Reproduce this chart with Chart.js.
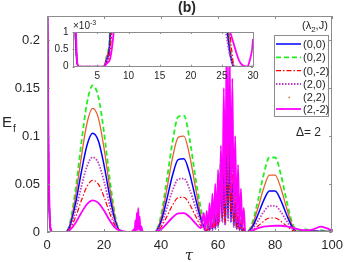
<!DOCTYPE html>
<html>
<head>
<meta charset="utf-8">
<script src="https://cdn.jsdelivr.net/npm/chart.js@4.4.1/dist/chart.umd.min.js"></script>
<style>
  body { margin: 0; background: #fff; }
  #wrap { position: relative; width: 349px; height: 262px; }
  canvas { position: absolute; left: 0; top: 0; }
</style>
</head>
<body>
<div id="wrap">
  <canvas id="mainChart" width="349" height="262"></canvas>
  <canvas id="insetChart" width="349" height="262"></canvas>
</div>
<script>
// time axis (tau), shared by all series
var tau = [
  0, 0.5, 1, 1.5, 2, 4, 6, 6.5, 7, 8,
  10, 12, 14, 16, 18, 20, 22, 24, 25, 26,
  26.5, 27, 27.5, 28, 29, 29.5, 30, 30.5, 30.75, 31,
  31.25, 31.5, 31.75, 32, 32.25, 32.5, 32.75, 33, 33.5, 34,
  36, 37.5, 38, 40, 42, 44, 46, 48, 50, 52,
  54, 55, 55.5, 56, 56.5, 57, 57.5, 58, 58.5, 59,
  59.5, 60, 60.5, 61, 61.5, 62, 62.5, 63, 63.5, 64,
  64.5, 65, 65.5, 66, 66.5, 67, 67.5, 68, 68.5, 69,
  69.5, 70, 72, 74, 76, 78, 80, 82, 84, 86,
  88, 90, 92, 94, 96, 98, 100
];

// (lambda2, J) = (0,0)
var ef00 = [
  0.3, 0.08, 0.01, 0.0008, 0, 0, 0, 0.0002, 0.0007, 0.0059,
  0.0295, 0.0617, 0.0901, 0.1028, 0.095, 0.0697, 0.0371, 0.0104, 0.0031, 0.0008,
  0.0002, 0, 0, 0, 0, 0, 0, 0, 0, 0,
  0, 0, 0, 0, 0, 0, 0, 0, 0, 0,
  0, 0, 0.0002, 0.0109, 0.0338, 0.0589, 0.0754, 0.0763, 0.0611, 0.0363,
  0.0128, 0.005, 0.002, 0.001, 0.004, 0.002, 0.008, 0.003, 0.012, 0.004,
  0.018, 0.006, 0.03, 0.045, 0.012, 0.06, 0.008, 0.08, 0.015, 0.1,
  0.01, 0.05, 0.006, 0.03, 0.003, 0.015, 0.002, 0.008, 0.001, 0.003,
  0.0005, 0, 0.0051, 0.0182, 0.033, 0.0427, 0.0427, 0.033, 0.0182, 0.0051,
  0, 0.0008, 0.001, 0.0008, 0.0005, 0.0005, 0.0005
];
// (0,2)
var ef02 = [
  0.3, 0.08, 0.01, 0.0008, 0, 0, 0, 0.0003, 0.001, 0.0087,
  0.0438, 0.0916, 0.134, 0.1527, 0.141, 0.1036, 0.0551, 0.0155, 0.0046, 0.0012,
  0.0003, 0, 0, 0, 0, 0, 0, 0, 0, 0,
  0, 0, 0, 0, 0, 0, 0, 0, 0, 0,
  0, 0, 0.0003, 0.0174, 0.0537, 0.0936, 0.12, 0.1213, 0.0971, 0.0578,
  0.024, 0.012, 0.008, 0.005, 0.01, 0.004, 0.015, 0.006, 0.02, 0.008,
  0.03, 0.01, 0.045, 0.078, 0.02, 0.06, 0.01, 0.09, 0.03, 0.12,
  0.02, 0.07, 0.01, 0.05, 0.005, 0.03, 0.004, 0.015, 0.002, 0.006,
  0.001, 0, 0.0094, 0.033, 0.06, 0.0776, 0.0776, 0.06, 0.033, 0.0094,
  0.001, 0.003, 0.002, 0.001, 0.002, 0.001, 0.001
];
// (0,-2)
var ef0m2 = [
  0.3, 0.08, 0.012, 0.0012, 0, 0, 0, 0.0001, 0.0004, 0.0031,
  0.0154, 0.0323, 0.0473, 0.0539, 0.0498, 0.0366, 0.0194, 0.0055, 0.0016, 0.0014,
  0.0006, 0, 0, 0, 0, 0, 0, 0, 0, 0,
  0, 0, 0, 0, 0, 0, 0, 0, 0, 0,
  0, 0, 0.0001, 0.0052, 0.016, 0.0279, 0.0358, 0.0362, 0.029, 0.0172,
  0.0061, 0.003, 0.001, 0.002, 0.005, 0.002, 0.01, 0.004, 0.015, 0.005,
  0.025, 0.008, 0.04, 0.06, 0.015, 0.09, 0.01, 0.12, 0.03, 0.13,
  0.02, 0.09, 0.01, 0.05, 0.005, 0.025, 0.003, 0.012, 0.001, 0.004,
  0.0005, 0, 0.0018, 0.0062, 0.0113, 0.0146, 0.0146, 0.0113, 0.0062, 0.0018,
  0, 0.0005, 0.0006, 0.0005, 0.0003, 0.0003, 0.0003
];
// (2,0)
var ef20 = [
  0.3, 0.08, 0.01, 0.0008, 0, 0, 0, 0.0002, 0.0005, 0.0044,
  0.0223, 0.0467, 0.0683, 0.0778, 0.0719, 0.0528, 0.0281, 0.0079, 0.0023, 0.0006,
  0.0002, 0, 0, 0, 0, 0, 0, 0, 0, 0,
  0, 0, 0, 0, 0, 0, 0, 0, 0, 0,
  0, 0, 0.0001, 0.008, 0.0247, 0.043, 0.0551, 0.0557, 0.0446, 0.0266,
  0.0093, 0.004, 0.002, 0.001, 0.003, 0.002, 0.006, 0.002, 0.01, 0.003,
  0.015, 0.005, 0.025, 0.04, 0.01, 0.05, 0.007, 0.07, 0.012, 0.09,
  0.012, 0.04, 0.005, 0.025, 0.003, 0.012, 0.002, 0.006, 0.001, 0.002,
  0.0005, 0, 0.0033, 0.0116, 0.021, 0.0272, 0.0272, 0.021, 0.0116, 0.0033,
  0, 0.0006, 0.0008, 0.0006, 0.0004, 0.0004, 0.0004
];
// (2,2)
var ef22 = [
  0.3, 0.08, 0.01, 0.0008, 0, 0, 0, 0.0003, 0.0008, 0.0074,
  0.0369, 0.0773, 0.1129, 0.1287, 0.1189, 0.0873, 0.0464, 0.013, 0.0039, 0.0011,
  0.0003, 0, 0, 0, 0, 0, 0, 0, 0, 0,
  0, 0, 0, 0, 0, 0, 0, 0, 0, 0,
  0, 0, 0.0003, 0.0143, 0.0442, 0.077, 0.0986, 0.0998, 0.0799, 0.0475,
  0.0167, 0.006, 0.003, 0.002, 0.006, 0.003, 0.01, 0.004, 0.015, 0.005,
  0.02, 0.008, 0.035, 0.05, 0.015, 0.07, 0.01, 0.1, 0.02, 0.08,
  0.015, 0.06, 0.008, 0.035, 0.004, 0.02, 0.003, 0.01, 0.001, 0.004,
  0.001, 0, 0.0071, 0.0252, 0.0458, 0.0592, 0.0592, 0.0458, 0.0252, 0.0071,
  0, 0.001, 0.0015, 0.001, 0.0005, 0.0005, 0.0005
];
// (2,-2)
var ef2m2 = [
  0.3, 0.1, 0.015, 0.0015, 0, 0, 0, 0.0001, 0.0002, 0.0019,
  0.0094, 0.0198, 0.0289, 0.0329, 0.0304, 0.0223, 0.0119, 0.004, 0.0022, 0.0012,
  0.0009, 0.0006, 0.0003, 0.0001, 0, 0.0002, 0.0008, 0.003, 0.0006, 0.012,
  0.001, 0.02, 0.002, 0.025, 0.002, 0.016, 0.001, 0.006, 0.001, 0,
  0, 0, 0.0001, 0.0028, 0.0087, 0.0151, 0.0193, 0.0196, 0.0157, 0.0093,
  0.004, 0.02, 0.002, 0.022, 0.003, 0.03, 0.004, 0.04, 0.005, 0.05,
  0.008, 0.065, 0.01, 0.09, 0.02, 0.15, 0.03, 0.2, 0.05, 0.2,
  0.04, 0.16, 0.02, 0.1, 0.01, 0.07, 0.005, 0.045, 0.003, 0.025,
  0.001, 0, 0.0015, 0.004, 0.0055, 0.0062, 0.0065, 0.0065, 0.0058, 0.0045,
  0.003, 0.0018, 0.002, 0.0035, 0.0055, 0.004, 0.0015
];

var seriesLabels = ['(0,0)', '(0,2)', '(0,-2)', '(2,0)', '(2,2)', '(2,-2)'];
var xTicks = [0, 20, 40, 60, 80, 100];
var yTicks = [0, 0.05, 0.1, 0.15, 0.2];
var insetXTicks = [5, 10, 15, 20, 25, 30];
var insetYTicks = [0, 0.0005, 0.001];

var FONT = '"Liberation Sans", Arial, Helvetica, sans-serif';
var BOX = '#8c8c8c';
var TXT = '#262626';

function pts(vals) {
    return tau.map(function (t, i) { return { x: t, y: vals[i] }; });
}

function makeDatasets() {
    // order: lower is drawn on top
    return [
        { label: seriesLabels[0], data: pts(ef00), borderColor: '#0000ff', borderWidth: 1.5, borderDash: [], order: 4 },
        { label: seriesLabels[1], data: pts(ef02), borderColor: '#22ee22', borderWidth: 1.8, borderDash: [5, 3], order: 6 },
        { label: seriesLabels[2], data: pts(ef0m2), borderColor: '#ff0000', borderWidth: 1.2, borderDash: [5, 2, 1.5, 2], order: 2 },
        { label: seriesLabels[3], data: pts(ef20), borderColor: '#c03cc8', borderWidth: 1.8, borderDash: [1.5, 1.5], order: 3 },
        { label: seriesLabels[4], data: pts(ef22), borderColor: '#e0622e', borderWidth: 1.3, borderDash: [], order: 5 },
        { label: seriesLabels[5], data: pts(ef2m2), borderColor: '#ff00ff', borderWidth: 1.8, borderDash: [], order: 1 }
    ].map(function (d) {
        d.showLine = true;
        d.pointRadius = 0;
        d.fill = false;
        d.clip = 0;
        d.cubicInterpolationMode = 'monotone';
        return d;
    });
}

// box around plot + inward tick marks (matlab style)
function boxPlugin(tl, fillWhite) {
    return {
        id: 'box',
        beforeDraw: function (chart) {
            if (!fillWhite) return;
            var a = chart.chartArea, c = chart.ctx;
            c.save();
            c.fillStyle = '#fff';
            c.fillRect(a.left, a.top, a.right - a.left, a.bottom - a.top);
            c.restore();
        },
        afterDraw: function (chart) {
            var a = chart.chartArea, c = chart.ctx;
            var xs = chart.scales.x, ys = chart.scales.y;
            c.save();
            c.strokeStyle = BOX;
            c.lineWidth = 1;
            c.setLineDash([]);
            c.strokeRect(Math.round(a.left) + 0.5, Math.round(a.top) + 0.5,
                Math.round(a.right - a.left) - 1, Math.round(a.bottom - a.top) - 1);
            c.beginPath();
            xs.ticks.forEach(function (t) {
                var px = Math.round(xs.getPixelForValue(t.value)) + 0.5;
                c.moveTo(px, a.bottom); c.lineTo(px, a.bottom - tl);
                c.moveTo(px, a.top); c.lineTo(px, a.top + tl);
            });
            ys.ticks.forEach(function (t) {
                var py = Math.round(ys.getPixelForValue(t.value)) + 0.5;
                c.moveTo(a.left, py); c.lineTo(a.left + tl, py);
                c.moveTo(a.right, py); c.lineTo(a.right - tl, py);
            });
            c.stroke();
            c.restore();
        }
    };
}

var annotations = {
    id: 'annotations',
    afterDraw: function (chart) {
        var c = chart.ctx;
        c.save();
        c.fillStyle = TXT;
        c.textBaseline = 'alphabetic';

        // title
        c.font = 'bold 14px ' + FONT;
        c.textAlign = 'center';
        c.fillText('(b)', 187, 12);

        // axis labels
        c.textAlign = 'left';
        c.font = '15px ' + FONT;
        c.fillText('E', 2, 127);
        c.font = '10px ' + FONT;
        c.fillText('f', 13, 132);
        c.font = 'italic 15px "DejaVu Serif", serif';
        c.textAlign = 'center';
        c.fillText('\u03c4', 189, 260);

        // legend title
        c.textAlign = 'left';
        c.font = '11px ' + FONT;
        c.fillText('(\u03bb', 302, 29);
        var w = c.measureText('(\u03bb').width;
        c.font = '8px ' + FONT;
        c.fillText('2', 302 + w, 32);
        var w2 = c.measureText('2').width;
        c.font = '11px ' + FONT;
        c.fillText(',J)', 302 + w + w2, 29);

        // legend box
        c.fillStyle = '#fff';
        c.fillRect(274.5, 35.5, 54, 81);
        c.strokeStyle = BOX;
        c.lineWidth = 1;
        c.strokeRect(274.5, 35.5, 54, 81);
        var rows = [44, 57.3, 70.6, 84, 97.2, 109];
        chart.data.datasets.forEach(function (ds, i) {
            var y = rows[i];
            c.strokeStyle = ds.borderColor;
            c.fillStyle = ds.borderColor;
            if (i === 4) {
                c.fillRect(288.5, y - 0.5, 1.5, 1.5);
            } else {
                c.lineWidth = ds.borderWidth;
                c.setLineDash(ds.borderDash);
                c.beginPath();
                c.moveTo(276, y); c.lineTo(301, y);
                c.stroke();
            }
            c.setLineDash([]);
            c.fillStyle = TXT;
            c.font = '11px ' + FONT;
            c.fillText(ds.label, 303, y + 4);
        });

        // delta
        c.font = '12px ' + FONT;
        c.fillText('\u0394= 2', 296, 136);
        c.restore();
    }
};

new Chart(document.getElementById('mainChart'), {
    type: 'scatter',
    data: { datasets: makeDatasets() },
    options: {
        responsive: false,
        animation: false,
        devicePixelRatio: 1,
        layout: { padding: { top: 16, right: 16, left: 0, bottom: 0 } },
        plugins: { legend: { display: false }, tooltip: { enabled: false } },
        scales: {
            x: {
                type: 'linear', min: 0, max: 100,
                grid: { display: false, drawTicks: false }, border: { display: false },
                afterBuildTicks: function (s) { s.ticks = xTicks.map(function (v) { return { value: v }; }); },
                afterFit: function (s) { s.height = 30; },
                ticks: { padding: 6, color: TXT, font: { family: FONT, size: 13 }, maxRotation: 0,
                    callback: function (v) { return String(v); } }
            },
            y: {
                type: 'linear', min: 0, max: 0.225,
                grid: { display: false, drawTicks: false }, border: { display: false },
                afterBuildTicks: function (s) { s.ticks = yTicks.map(function (v) { return { value: v }; }); },
                afterFit: function (s) { s.width = 47; },
                ticks: { padding: 7, color: TXT, font: { family: FONT, size: 13 },
                    callback: function (v) { return String(v); } }
            }
        }
    },
    plugins: [boxPlugin(3, false), annotations]
});

var insetLabels = {
    id: 'insetLabels',
    afterDraw: function (chart) {
        var c = chart.ctx;
        c.save();
        c.fillStyle = TXT;
        c.textAlign = 'left';
        c.font = '10px ' + FONT;
        c.fillText('\u00d710', 73, 29);
        var w = c.measureText('\u00d710').width;
        c.font = '7px ' + FONT;
        c.fillText('-3', 73 + w, 25);
        c.restore();
    }
};

new Chart(document.getElementById('insetChart'), {
    type: 'scatter',
    data: { datasets: makeDatasets() },
    options: {
        responsive: false,
        animation: false,
        devicePixelRatio: 1,
        layout: { padding: { top: 32, right: 96, left: 42.5, bottom: 165.3 } },
        plugins: { legend: { display: false }, tooltip: { enabled: false } },
        scales: {
            x: {
                type: 'linear', min: 1, max: 30,
                grid: { display: false, drawTicks: false }, border: { display: false },
                afterBuildTicks: function (s) { s.ticks = insetXTicks.map(function (v) { return { value: v }; }); },
                afterFit: function (s) { s.height = 30; },
                ticks: { padding: 4, color: TXT, font: { family: FONT, size: 10 }, maxRotation: 0,
                    callback: function (v) { return String(v); } }
            },
            y: {
                type: 'linear', min: 0, max: 0.001,
                grid: { display: false, drawTicks: false }, border: { display: false },
                afterBuildTicks: function (s) { s.ticks = insetYTicks.map(function (v) { return { value: v }; }); },
                afterFit: function (s) { s.width = 30; },
                ticks: { padding: 4, color: TXT, font: { family: FONT, size: 10 },
                    callback: function (v) { return String(Math.round(v * 10000) / 10); } }
            }
        }
    },
    plugins: [boxPlugin(2, true), insetLabels]
});
</script>
</body>
</html>
